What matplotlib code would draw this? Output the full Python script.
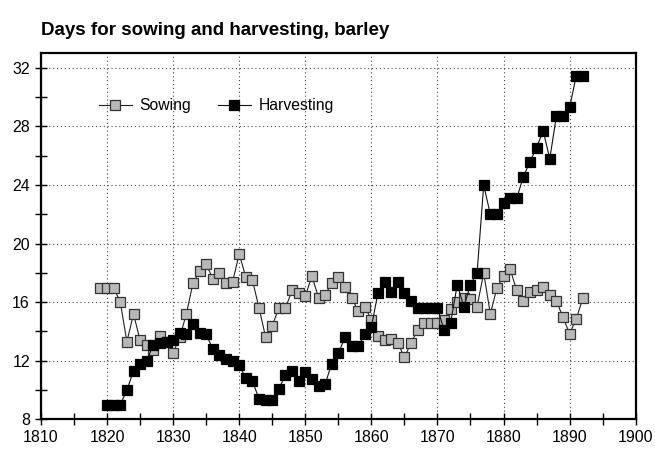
import matplotlib
matplotlib.use("Agg")
import matplotlib.pyplot as plt
from matplotlib.ticker import MultipleLocator

plt.rcParams['font.family'] = ['Liberation Sans Narrow', 'Liberation Sans', 'DejaVu Sans']

# Sowing: 1819-1892
sow_years = list(range(1819, 1893))
sowing = [17.0, 17.0, 17.0, 16.0, 13.3, 15.2, 13.4, 13.1, 12.7, 13.7,
          13.3, 12.55, 13.6, 15.2, 17.3, 18.1, 18.6, 17.6, 18.0, 17.3,
          17.4, 19.3, 17.7, 17.5, 15.6, 13.6, 14.4, 15.6, 15.6, 16.8,
          16.6, 16.4, 17.8, 16.3, 16.5, 17.3, 17.7, 17.05, 16.3, 15.4,
          15.7, 14.8, 13.7, 13.4, 13.5, 13.2, 12.25, 13.2, 14.1, 14.6,
          14.6, 14.6, 14.8, 15.5, 16.0, 16.26, 16.2, 15.7, 18.0, 15.2,
          16.96, 17.8, 18.26, 16.8, 16.1, 16.7, 16.8, 17.05, 16.5, 16.1,
          14.96, 13.85, 14.85, 16.26]

# Harvesting: 1820-1892
harv_years = list(range(1820, 1893))
harvesting = [9.0, 9.0, 9.0, 10.0, 11.3, 11.75, 12.0, 13.1, 13.2, 13.25,
              13.4, 13.9, 13.8, 14.5, 13.9, 13.8, 12.8, 12.4, 12.1, 12.0,
              11.7, 10.8, 10.6, 9.4, 9.3, 9.3, 10.1, 11.0, 11.3, 10.6,
              11.2, 10.75, 10.3, 10.4, 11.8, 12.5, 13.6, 13.0, 13.0, 13.8,
              14.3, 16.65, 17.35, 16.7, 17.35, 16.65, 16.1, 15.6, 15.6, 15.6,
              15.6, 14.1, 14.6, 17.2, 15.7, 17.2, 18.0, 24.0, 22.0, 22.0,
              22.8, 23.1, 23.1, 24.56, 25.6, 26.55, 27.7, 25.8, 28.7, 28.7,
              29.3, 31.45, 31.45]

fig = plt.figure(figsize=(6.55, 4.57), dpi=100)
ax = fig.add_axes([0.0626, 0.0825, 0.9079, 0.8009])

ax.plot(sow_years, sowing, color='#222222', lw=0.8, marker='s', ms=7.2,
        mfc='#b8b8b8', mec='#333333', mew=0.9, label='Sowing', zorder=3)
ax.plot(harv_years, harvesting, color='#111111', lw=0.8, marker='s', ms=7.2,
        mfc='black', mec='black', mew=0.9, label='Harvesting', zorder=4)

ax.set_xlim(1810, 1900)
ax.set_ylim(8, 33)
ax.xaxis.set_major_locator(MultipleLocator(10))
ax.xaxis.set_minor_locator(MultipleLocator(5))
ax.yaxis.set_major_locator(MultipleLocator(4))
ax.yaxis.set_minor_locator(MultipleLocator(2))

ax.grid(True, which='major', linestyle=(0, (1, 2.5)), color='#444444', lw=0.8)
ax.set_axisbelow(True)

for s in ax.spines.values():
    s.set_linewidth(1.6)

ax.tick_params(which='major', direction='inout', length=8, width=1.0, labelsize=11.5, pad=4)
ax.tick_params(which='minor', direction='inout', length=8, width=1.0)

ax.set_title('Days for sowing and harvesting, barley', loc='left', x=0.0,
             fontsize=13.5, fontweight='bold', pad=13)

ax.legend(loc='center left', bbox_to_anchor=(0.097, 0.857), ncol=2, frameon=False,
          fontsize=11.3, handlelength=2.1, columnspacing=1.7, handletextpad=0.5,
          borderaxespad=0, borderpad=0)

fig.savefig('out.png', dpi=100)
